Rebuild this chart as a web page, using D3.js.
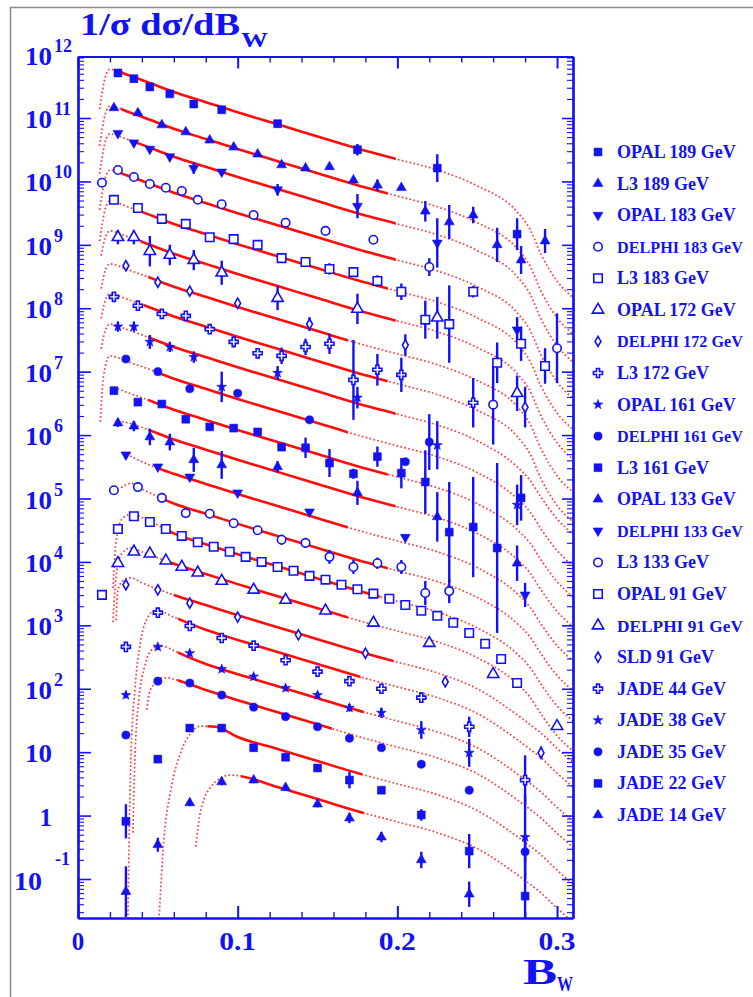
<!DOCTYPE html>
<html>
<head>
<meta charset="utf-8">
<script src="https://cdn.jsdelivr.net/npm/d3@7"></script>
<style>
  html, body { margin: 0; padding: 0; background: #fff; }
  svg { display: block; }
  text { font-family: "Liberation Serif", "Times New Roman", serif; font-weight: bold; }
</style>
</head>
<body>
<svg id="chart" width="753" height="997"></svg>
<script>
// ---------------------------------------------------------------
// Bin centres (B_W) of the different measurements
// ---------------------------------------------------------------
const xOPAL = [0.025, 0.035, 0.045, 0.0575, 0.0725, 0.09, 0.125, 0.175, 0.225, 0.275];
const xL3 = [0.0225, 0.0375, 0.0525, 0.0675, 0.0825, 0.0975, 0.1125, 0.1275, 0.1425, 0.1575,
             0.1725, 0.1875, 0.2025, 0.2175, 0.2325, 0.2475, 0.2625, 0.2775, 0.2925];
const xDELPHI = [0.015, 0.025, 0.035, 0.045, 0.055, 0.065, 0.075, 0.09, 0.11, 0.13, 0.155, 0.185, 0.22, 0.26, 0.3];
const xDELPHI91 = [0.025, 0.035, 0.045, 0.055, 0.065, 0.075, 0.09, 0.11, 0.13, 0.155, 0.185, 0.22, 0.26, 0.3];
const xDELPHI172 = [0.03, 0.05, 0.07, 0.1, 0.145, 0.205, 0.28];
const xDELPHI161 = [0.03, 0.05, 0.07, 0.1, 0.145, 0.205, 0.22];
const xDELPHI133 = [0.03, 0.05, 0.07, 0.1, 0.145, 0.205, 0.28];
const xL3_172 = [0.0225, 0.0375, 0.0525, 0.0675, 0.0825, 0.0975, 0.1125, 0.1275, 0.1425, 0.1575, 0.1725, 0.1875, 0.2025, 0.2475];
const xOPAL91 = [0.015, 0.025, 0.035, 0.045, 0.055, 0.065, 0.075, 0.085, 0.095, 0.105, 0.115, 0.125, 0.135, 0.145,
                 0.155, 0.165, 0.175, 0.185, 0.195, 0.205, 0.215, 0.225, 0.235, 0.245, 0.255, 0.265, 0.275];
const xSLD = [0.03, 0.05, 0.07, 0.1, 0.138, 0.18, 0.23, 0.29];
const xJADE = [0.03, 0.05, 0.07, 0.09, 0.11, 0.13, 0.15, 0.17, 0.19, 0.215, 0.245, 0.28];

// ---------------------------------------------------------------
// Measured distributions: log10(1/sigma dsigma/dB_W), each sample
// shifted by its own display factor; errors in decades.
// ---------------------------------------------------------------
const opal189 = [11.71, 11.62, 11.49, 11.38, 11.22, 11.13, 10.91, 10.50, 10.21, 9.17];
const opal189Err = [0, 0, 0, 0, 0, 0, 0, 0.09, 0.22, 0.25];
const l3189 = [11.16, 11.08, 10.89, 10.78, 10.65, 10.54, 10.43, 10.26, 10.21, 10.23, 10.02, 9.94, 9.90, 9.53, 9.36, 9.47, 9.00, 8.76, 9.06];
const l3189Err = [0, 0, 0, 0, 0, 0, 0, 0, 0, 0, 0, 0.09, 0, 0.16, 0.27, 0.13, 0.27, 0.22, 0.19];
const opal183 = [10.76, 10.61, 10.51, 10.39, 10.21, 10.15, 9.87, 9.61, 9.03, 7.66];
const opal183Err = [0, 0, 0, 0, 0.09, 0, 0.09, 0.19, 0.39, 0.2];
const delphi183 = [9.98, 10.18, 10.07, 9.96, 9.90, 9.85, 9.71, 9.64, 9.47, 9.35, 9.22, 9.08, 8.65, 6.48, 7.37];
const delphi183Err = [0, 0, 0, 0, 0, 0, 0, 0, 0, 0, 0, 0, 0.14, 0.63, 0.55];
const l3183 = [9.71, 9.58, 9.41, 9.33, 9.12, 9.09, 9.00, 8.79, 8.73, 8.62, 8.57, 8.43, 8.26, 7.82, 7.75, 8.26, 7.14, 7.44, 7.09];
const l3183Err = [0, 0, 0, 0, 0, 0, 0, 0, 0, 0.09, 0, 0.09, 0.13, 0.30, 0.61, 0.09, 0.32, 0.27, 0.28];
const opal172 = [9.12, 9.12, 8.90, 8.84, 8.76, 8.56, 8.16, 7.99, 7.85, 6.66];
const opal172Err = [0.11, 0.11, 0.24, 0.16, 0.16, 0.19, 0.19, 0.24, 0.33, 0.28];
const delphi172 = [8.67, 8.41, 8.27, 8.08, 7.75, 7.42, 6.44];
const delphi172Err = [0, 0, 0, 0.05, 0.11, 0.17, 0.32];
const l3172 = [8.18, 8.04, 7.91, 7.88, 7.67, 7.47, 7.29, 7.25, 7.39, 7.44, 6.87, 7.03, 6.95, 6.51];
const l3172Err = [0.05, 0.06, 0.06, 0.06, 0.08, 0.09, 0.06, 0.13, 0.13, 0.16, 0.63, 0.25, 0.27, 0.39];
const opal161 = [7.71, 7.71, 7.47, 7.39, 7.23, 6.76, 6.98, 6.59, 5.84, 4.90];
const opal161Err = [0.08, 0.08, 0.11, 0.08, 0.09, 0.24, 0.11, 0.17, 0.38, 0.32];
const delphi161 = [7.20, 7.00, 6.73, 6.66, 6.24, 5.58, 5.89];
const delphi161Err = [0, 0, 0, 0, 0, 0, 0.44];
const l3161 = [6.70, 6.52, 6.49, 6.25, 6.13, 6.11, 6.05, 5.81, 5.80, 5.56, 5.39, 5.66, 5.40, 5.26, 4.47, 4.55, 4.22, 5.01];
const l3161Err = [0, 0, 0, 0.06, 0.06, 0.06, 0.06, 0, 0.16, 0.22, 0.08, 0.16, 0.24, 0.50, 0.79, 0.79, 1.34, 0.36];
const opal133 = [6.19, 6.14, 5.97, 5.89, 5.61, 5.53, 5.50, 5.09, 4.71, 3.98];
const opal133Err = [0.06, 0.08, 0.13, 0.13, 0.19, 0.22, 0.09, 0.19, 0.39, 0.28];
const delphi133 = [5.69, 5.50, 5.34, 5.09, 4.79, 4.39, 3.48];
const delphi133Err = [0, 0, 0, 0, 0, 0, 0.19];
const l3133 = [5.13, 5.18, 5.01, 4.77, 4.76, 4.61, 4.50, 4.35, 4.30, 4.08, 3.92, 3.98, 3.92, 3.51, 3.54];
const l3133Err = [0, 0, 0, 0, 0, 0, 0.06, 0.08, 0.08, 0.11, 0.11, 0.09, 0.11, 0.19, 0.19];
const opal91 = [3.48, 4.52, 4.72, 4.63, 4.52, 4.41, 4.31, 4.24, 4.16, 4.08, 4.00, 3.92, 3.86, 3.78,
                3.72, 3.64, 3.57, 3.50, 3.42, 3.32, 3.23, 3.15, 3.04, 2.88, 2.71, 2.47, 2.09];
const opal91Err = opal91.map(() => 0);
const delphi91 = [3.98, 4.16, 4.13, 4.02, 3.92, 3.83, 3.70, 3.56, 3.40, 3.23, 3.04, 2.72, 2.23, 1.41];
const delphi91Err = delphi91.map(() => 0);
const sld91 = [3.64, 3.56, 3.35, 3.13, 2.85, 2.56, 2.11, 0.99];
const sld91Err = [0.05, 0, 0, 0, 0, 0, 0, 0.1];
const jade44 = [2.66, 3.20, 2.99, 2.80, 2.68, 2.45, 2.27, 2.12, 2.00, 1.86, 1.40, 0.56];
const jade44Err = [0.06, 0.06, 0.06, 0.05, 0.05, 0.05, 0.05, 0.06, 0.06, 0.08, 0.16, 0.39];
const jade38 = [1.90, 2.66, 2.56, 2.31, 2.19, 2.01, 1.90, 1.70, 1.62, 1.35, 0.99, -0.34];
const jade38Err = [0.05, 0.05, 0.05, 0.05, 0.05, 0.05, 0.05, 0.06, 0.08, 0.14, 0.22, 0.66];
const jade35 = [1.27, 2.12, 2.09, 1.90, 1.71, 1.56, 1.40, 1.22, 1.07, 0.81, 0.40, -0.57];
const jade35Err = [0.05, 0.05, 0.05, 0.05, 0.05, 0.05, 0.05, 0.05, 0.05, 0.06, 0.06, 0.16];
const jade22 = [-0.09, 0.89, 1.38, 1.38, 1.07, 0.92, 0.75, 0.56, 0.40, 0.01, -0.56, -1.27];
const jade22Err = [0.27, 0.06, 0.06, 0.06, 0.06, 0.06, 0.06, 0.13, 0.06, 0.09, 0.27, 0.63];
const jade14 = [-1.20, -0.46, 0.20, 0.53, 0.56, 0.44, 0.18, -0.04, -0.34, -0.70, -1.24];
const jade14Err = [0.4, 0.11, 0.05, 0.05, 0.05, 0.05, 0.05, 0.08, 0.08, 0.13, 0.2];

// ---------------------------------------------------------------
// Theory predictions [B_W, log10 value]; solid inside the fit range
// ---------------------------------------------------------------
const curveOpal189 = [[0.0135,11.14],[0.015,11.38],[0.017,11.64],[0.02,11.77],[0.025,11.74],[0.03,11.69],[0.04,11.60],[0.06,11.41],[0.08,11.25],[0.1,11.09],[0.125,10.90],[0.15,10.71],[0.175,10.52],[0.2,10.35],[0.225,10.18],[0.25,9.93],[0.275,9.52],[0.283,9.25],[0.29,8.85],[0.3,8.43],[0.31,8.17]];
const curveL3189 = [[0.0135,10.56],[0.015,10.80],[0.017,11.06],[0.02,11.19],[0.025,11.16],[0.03,11.11],[0.04,11.02],[0.06,10.83],[0.08,10.67],[0.1,10.51],[0.125,10.32],[0.15,10.13],[0.175,9.94],[0.2,9.77],[0.225,9.60],[0.25,9.35],[0.275,8.94],[0.283,8.67],[0.29,8.27],[0.3,7.85],[0.31,7.59]];
const curveOpal183 = [[0.0135,10.12],[0.015,10.36],[0.017,10.62],[0.02,10.75],[0.025,10.72],[0.03,10.67],[0.04,10.58],[0.06,10.39],[0.08,10.23],[0.1,10.07],[0.125,9.88],[0.15,9.69],[0.175,9.50],[0.2,9.33],[0.225,9.16],[0.25,8.91],[0.275,8.50],[0.283,8.23],[0.29,7.83],[0.3,7.41],[0.31,7.15]];
const curveDelphi183 = [[0.0135,9.55],[0.015,9.79],[0.017,10.05],[0.02,10.18],[0.025,10.15],[0.03,10.10],[0.04,10.01],[0.06,9.82],[0.08,9.66],[0.1,9.50],[0.125,9.31],[0.15,9.12],[0.175,8.93],[0.2,8.76],[0.225,8.59],[0.25,8.34],[0.275,7.93],[0.283,7.66],[0.29,7.26],[0.3,6.84],[0.31,6.58]];
const curveL3183 = [[0.0135,9.06],[0.015,9.30],[0.017,9.56],[0.02,9.69],[0.025,9.66],[0.03,9.61],[0.04,9.52],[0.06,9.33],[0.08,9.17],[0.1,9.01],[0.125,8.82],[0.15,8.63],[0.175,8.44],[0.2,8.27],[0.225,8.10],[0.25,7.85],[0.275,7.44],[0.283,7.17],[0.29,6.77],[0.3,6.35],[0.31,6.09]];
const curveOpal172 = [[0.0145,8.83],[0.017,9.11],[0.02,9.22],[0.025,9.19],[0.03,9.14],[0.04,9.05],[0.06,8.86],[0.08,8.70],[0.1,8.54],[0.125,8.35],[0.15,8.16],[0.175,7.97],[0.2,7.80],[0.225,7.63],[0.25,7.38],[0.275,6.97],[0.283,6.70],[0.29,6.30],[0.3,5.88],[0.31,5.62]];
const curveDelphi172 = [[0.0145,8.31],[0.017,8.59],[0.02,8.70],[0.025,8.67],[0.03,8.62],[0.04,8.53],[0.06,8.34],[0.08,8.18],[0.1,8.02],[0.125,7.83],[0.15,7.64],[0.175,7.45],[0.2,7.28],[0.225,7.11],[0.25,6.86],[0.275,6.45],[0.283,6.18],[0.29,5.78],[0.3,5.36],[0.31,5.10]];
const curveL3172 = [[0.0145,7.84],[0.017,8.12],[0.02,8.23],[0.025,8.20],[0.03,8.15],[0.04,8.06],[0.06,7.87],[0.08,7.71],[0.1,7.55],[0.125,7.36],[0.15,7.17],[0.175,6.98],[0.2,6.81],[0.225,6.64],[0.25,6.39],[0.275,5.98],[0.283,5.71],[0.29,5.31],[0.3,4.89],[0.31,4.63]];
const curveOpal161 = [[0.0145,7.36],[0.017,7.64],[0.02,7.75],[0.025,7.72],[0.03,7.67],[0.04,7.58],[0.06,7.39],[0.08,7.23],[0.1,7.07],[0.125,6.88],[0.15,6.69],[0.175,6.50],[0.2,6.33],[0.225,6.16],[0.25,5.91],[0.275,5.50],[0.283,5.29],[0.29,5.02],[0.3,4.68],[0.31,4.44]];
const curveDelphi161 = [[0.014,6.21],[0.016,6.93],[0.02,7.25],[0.025,7.22],[0.03,7.17],[0.04,7.08],[0.06,6.89],[0.08,6.73],[0.1,6.57],[0.125,6.38],[0.15,6.19],[0.175,6.00],[0.2,5.83],[0.225,5.66],[0.25,5.41],[0.275,5.00],[0.283,4.79],[0.29,4.52],[0.3,4.18],[0.31,3.94]];
const curveL3161 = [[0.0225,6.76],[0.025,6.73],[0.03,6.68],[0.04,6.59],[0.06,6.40],[0.08,6.24],[0.1,6.08],[0.125,5.89],[0.15,5.70],[0.175,5.51],[0.2,5.34],[0.225,5.17],[0.25,4.92],[0.275,4.51],[0.283,4.30],[0.29,4.03],[0.3,3.69],[0.31,3.45]];
const curveOpal133 = [[0.025,6.21],[0.03,6.20],[0.04,6.12],[0.06,5.93],[0.08,5.77],[0.1,5.61],[0.125,5.42],[0.15,5.23],[0.175,5.04],[0.2,4.87],[0.225,4.70],[0.25,4.45],[0.275,4.04],[0.283,3.83],[0.29,3.56],[0.3,3.22],[0.31,2.98]];
const curveDelphi133 = [[0.028,5.72],[0.03,5.70],[0.04,5.58],[0.06,5.39],[0.08,5.23],[0.1,5.07],[0.125,4.88],[0.15,4.69],[0.175,4.50],[0.2,4.33],[0.225,4.16],[0.25,3.91],[0.275,3.50],[0.283,3.29],[0.29,3.02],[0.3,2.68],[0.31,2.44]];
const curveL3133 = [[0.027,5.17],[0.033,5.24],[0.04,5.15],[0.06,4.92],[0.08,4.76],[0.1,4.60],[0.125,4.41],[0.15,4.22],[0.175,4.03],[0.2,3.86],[0.225,3.69],[0.25,3.44],[0.275,3.03],[0.283,2.82],[0.29,2.55],[0.3,2.21],[0.31,1.97]];
const curveOpal91 = [[0.0219,3.59],[0.0231,4.11],[0.025,4.50],[0.028,4.69],[0.035,4.76],[0.04,4.70],[0.05,4.58],[0.06,4.45],[0.08,4.28],[0.1,4.12],[0.125,3.93],[0.15,3.74],[0.175,3.55],[0.2,3.38],[0.225,3.21],[0.25,2.96],[0.275,2.55],[0.283,2.34],[0.29,2.07],[0.3,1.73],[0.31,1.49]];
const curveDelphi91 = [[0.0219,3.05],[0.0231,3.56],[0.0256,4.03],[0.0288,4.17],[0.033,4.22],[0.04,4.16],[0.06,3.97],[0.08,3.81],[0.1,3.65],[0.125,3.46],[0.15,3.27],[0.175,3.08],[0.2,2.91],[0.225,2.74],[0.25,2.49],[0.275,2.08],[0.283,1.87],[0.29,1.60],[0.3,1.26],[0.31,1.02]];
const curveSld91 = [[0.0238,3.08],[0.025,3.56],[0.028,3.70],[0.033,3.75],[0.04,3.67],[0.06,3.48],[0.08,3.32],[0.1,3.16],[0.125,2.97],[0.15,2.78],[0.175,2.59],[0.2,2.42],[0.225,2.25],[0.25,2.00],[0.275,1.59],[0.283,1.44],[0.29,1.30],[0.3,1.06],[0.31,0.84]];
const curveJade44 = [[0.0312,-1.7],[0.0319,-0.54],[0.0331,0.88],[0.0356,1.98],[0.0394,2.77],[0.0438,3.13],[0.0488,3.24],[0.06,3.13],[0.08,2.93],[0.1,2.77],[0.125,2.58],[0.15,2.39],[0.175,2.20],[0.2,2.03],[0.225,1.86],[0.25,1.61],[0.275,1.20],[0.283,1.05],[0.29,0.91],[0.3,0.67],[0.31,0.45]];
const curveJade38 = [[0.0344,-0.27],[0.0356,0.88],[0.0381,1.82],[0.0419,2.37],[0.0456,2.60],[0.05,2.67],[0.055,2.66],[0.06,2.60],[0.08,2.39],[0.1,2.23],[0.125,2.04],[0.15,1.85],[0.175,1.66],[0.2,1.49],[0.225,1.32],[0.25,1.07],[0.275,0.66],[0.283,0.51],[0.29,0.37],[0.3,0.13],[0.31,-0.09]];
const curveJade35 = [[0.0431,1.67],[0.0444,1.90],[0.0475,2.07],[0.0519,2.17],[0.0569,2.17],[0.06,2.15],[0.08,1.98],[0.1,1.82],[0.125,1.63],[0.15,1.44],[0.175,1.25],[0.2,1.08],[0.225,0.91],[0.25,0.66],[0.275,0.25],[0.283,0.10],[0.29,-0.04],[0.3,-0.28],[0.31,-0.50]];
const curveJade22 = [[0.0506,-1.7],[0.0538,-0.38],[0.0581,0.40],[0.0644,1.00],[0.0706,1.30],[0.0769,1.41],[0.0863,1.40],[0.1,1.24],[0.125,1.05],[0.15,0.86],[0.175,0.67],[0.2,0.50],[0.225,0.33],[0.25,0.08],[0.275,-0.33],[0.283,-0.48],[0.29,-0.62],[0.3,-0.86],[0.31,-1.08]];
const curveJade14 = [[0.0738,-0.49],[0.0763,0.01],[0.0788,0.25],[0.0831,0.45],[0.0875,0.56],[0.0956,0.64],[0.1,0.63],[0.125,0.45],[0.15,0.26],[0.175,0.07],[0.2,-0.10],[0.225,-0.27],[0.25,-0.52],[0.275,-0.93],[0.283,-1.08],[0.29,-1.22],[0.3,-1.46],[0.31,-1.68]];

// fit ranges [B_W min, B_W max] of the solid part of each prediction
const fitRanges = [[0.024,0.199],[0.027,0.194],[0.033,0.199],[0.025,0.199],[0.0375,0.194],[0.039,0.199],
                   [0.044,0.169],[0.041,0.194],[0.044,0.199],[0.05,0.169],[0.044,0.194],[0.044,0.199],
                   [0.05,0.169],[0.052,0.194],[0.054,0.189],[0.056,0.169],[0.06,0.1975],[0.0625,0.177],
                   [0.0625,0.179],[0.0625,0.159],[0.081,0.178],[0.102,0.179]];

const labels = ["OPAL 189 GeV","L3 189 GeV","OPAL 183 GeV","DELPHI 183 GeV","L3 183 GeV","OPAL 172 GeV",
                "DELPHI 172 GeV","L3 172 GeV","OPAL 161 GeV","DELPHI 161 GeV","L3 161 GeV","OPAL 133 GeV",
                "DELPHI 133 GeV","L3 133 GeV","OPAL 91 GeV","DELPHI 91 GeV","SLD 91 GeV","JADE 44 GeV",
                "JADE 38 GeV","JADE 35 GeV","JADE 22 GeV","JADE 14 GeV"];
const markerKinds = ["sqF","triF","triDF","circO","sqO","triO","diaO","crossO","star","circF","sqF",
                     "triF","triDF","circO","sqO","triO","diaO","crossO","star","circF","sqF","triF"];

const yTickExps = [12, 11, 10, 9, 8, 7, 6, 5, 4, 3, 2, 1, 0, -1];
const xTickLabels = [0, 0.1, 0.2, 0.3];

// ---------------------------------------------------------------
const samples = [
  {x: xOPAL, v: opal189, e: opal189Err, c: curveOpal189},
  {x: xL3, v: l3189, e: l3189Err, c: curveL3189},
  {x: xOPAL, v: opal183, e: opal183Err, c: curveOpal183},
  {x: xDELPHI, v: delphi183, e: delphi183Err, c: curveDelphi183},
  {x: xL3, v: l3183, e: l3183Err, c: curveL3183},
  {x: xOPAL, v: opal172, e: opal172Err, c: curveOpal172},
  {x: xDELPHI172, v: delphi172, e: delphi172Err, c: curveDelphi172},
  {x: xL3_172, v: l3172, e: l3172Err, c: curveL3172},
  {x: xOPAL, v: opal161, e: opal161Err, c: curveOpal161},
  {x: xDELPHI161, v: delphi161, e: delphi161Err, c: curveDelphi161},
  {x: xL3.slice(0, 18), v: l3161, e: l3161Err, c: curveL3161},
  {x: xOPAL, v: opal133, e: opal133Err, c: curveOpal133},
  {x: xDELPHI133, v: delphi133, e: delphi133Err, c: curveDelphi133},
  {x: xL3.slice(0, 15), v: l3133, e: l3133Err, c: curveL3133},
  {x: xOPAL91, v: opal91, e: opal91Err, c: curveOpal91},
  {x: xDELPHI91, v: delphi91, e: delphi91Err, c: curveDelphi91},
  {x: xSLD, v: sld91, e: sld91Err, c: curveSld91},
  {x: xJADE, v: jade44, e: jade44Err, c: curveJade44},
  {x: xJADE, v: jade38, e: jade38Err, c: curveJade38},
  {x: xJADE, v: jade35, e: jade35Err, c: curveJade35},
  {x: xJADE, v: jade22, e: jade22Err, c: curveJade22},
  {x: xJADE.slice(0, 11), v: jade14, e: jade14Err, c: curveJade14}
];

const BLUE = "#1212f2";
const RED = "#ff0d0d";
const DOT_RED = "#ff3b3b";

const plot = {left: 78, right: 573, top: 56.5, bottom: 918};
const xs = d3.scaleLinear().domain([0, 0.31]).range([plot.left, plot.right]);
const ys = d3.scaleLog().domain([Math.pow(10, -1.615), Math.pow(10, 11.97)]).range([plot.bottom, plot.top]);
const yv = l => ys(Math.pow(10, l));

const svg = d3.select("#chart");
const defs = svg.append("defs");

// outer frame of the figure
svg.append("rect").attr("x", 10.5).attr("y", 7.5).attr("width", 800).attr("height", 1100)
  .attr("fill", "none").attr("stroke", "#8a8a8a").attr("stroke-width", 1.5);

defs.append("clipPath").attr("id", "plotClip").append("rect")
  .attr("x", plot.left).attr("y", plot.top)
  .attr("width", plot.right - plot.left).attr("height", plot.bottom - plot.top);

// ---------------- predictions ----------------
const line = d3.line().x(d => xs(d[0])).y(d => yv(d[1])).curve(d3.curveMonotoneX);
const curveLayer = svg.append("g").attr("clip-path", "url(#plotClip)");
samples.forEach((s, i) => {
  const [lo, hi] = fitRanges[i];
  defs.append("clipPath").attr("id", "fit" + i).append("rect")
    .attr("x", xs(lo)).attr("y", plot.top)
    .attr("width", xs(hi) - xs(lo)).attr("height", plot.bottom - plot.top);
  curveLayer.append("path").attr("d", line(s.c))
    .attr("fill", "none").attr("stroke", DOT_RED).attr("stroke-width", 1.7)
    .attr("stroke-dasharray", "1.7 2.3");
  curveLayer.append("g").attr("clip-path", "url(#fit" + i + ")")
    .append("path").attr("d", line(s.c))
    .attr("fill", "none").attr("stroke", RED).attr("stroke-width", 2.6);
});

// ---------------- markers ----------------
const markerDefs = {
  sqF:    {type: d3.symbolSquare,   size: 62, fill: true},
  triF:   {type: d3.symbolTriangle, size: 42, fill: true},
  triDF:  {type: d3.symbolTriangle, size: 42, fill: true, rot: 180},
  circO:  {type: d3.symbolCircle,   size: 56, fill: false},
  sqO:    {type: d3.symbolSquare,   size: 72, fill: false},
  triO:   {type: d3.symbolTriangle, size: 56, fill: false},
  diaO:   {type: d3.symbolDiamond,  size: 30, fill: false},
  crossO: {type: d3.symbolCross,    size: 46, fill: false},
  star:   {type: d3.symbolStar,     size: 30, fill: true},
  circF:  {type: d3.symbolCircle,   size: 52, fill: true}
};
function drawMarker(g, kind, cx, cy) {
  const m = markerDefs[kind];
  g.append("path")
    .attr("d", d3.symbol().type(m.type).size(m.size)())
    .attr("transform", `translate(${cx},${cy})` + (m.rot ? ` rotate(${m.rot})` : ""))
    .attr("fill", m.fill ? BLUE : "#fff")
    .attr("stroke", BLUE)
    .attr("stroke-width", m.fill ? 0.6 : 1.6);
}

const dataLayer = svg.append("g").attr("clip-path", "url(#plotClip)");
samples.forEach((s, i) => {
  const g = dataLayer.append("g");
  s.v.forEach((val, j) => {
    const err = s.e[j];
    if (err > 0) {
      g.append("line")
        .attr("x1", xs(s.x[j])).attr("x2", xs(s.x[j]))
        .attr("y1", yv(val - err)).attr("y2", yv(val + err))
        .attr("stroke", BLUE).attr("stroke-width", 2.4);
    }
  });
  s.v.forEach((val, j) => drawMarker(g, markerKinds[i], xs(s.x[j]), yv(val)));
});

// ---------------- axes ----------------
function styleAxis(g, w) {
  g.select("path.domain").attr("stroke", BLUE).attr("stroke-width", 2.2);
  g.selectAll(".tick line").attr("stroke", BLUE).attr("stroke-width", w);
  g.selectAll(".tick text").remove();
}
const xMajor = [0, 0.1, 0.2, 0.3];
const xMinor = d3.range(1, 16).filter(i => i % 5 !== 0).map(i => i * 0.02);
const yMajor = d3.range(-1, 12).map(e => Math.pow(10, e));
const yMinor = [];
d3.range(-2, 12).forEach(e => d3.range(2, 10).forEach(k => {
  const v = k * Math.pow(10, e);
  if (v > ys.domain()[0] && v < ys.domain()[1]) yMinor.push(v);
}));

const axG = svg.append("g");
[[d3.axisBottom, plot.bottom], [d3.axisTop, plot.top]].forEach(([ax, pos]) => {
  axG.append("g").attr("transform", `translate(0,${pos})`)
    .call(ax(xs).tickValues(xMinor).tickSize(-6).tickSizeOuter(0).tickFormat(""))
    .call(g => styleAxis(g, 1.4));
  axG.append("g").attr("transform", `translate(0,${pos})`)
    .call(ax(xs).tickValues(xMajor).tickSize(-12).tickSizeOuter(0).tickFormat(""))
    .call(g => styleAxis(g, 2));
});
[[d3.axisLeft, plot.left, 13], [d3.axisRight, plot.right, 11]].forEach(([ax, pos, len]) => {
  axG.append("g").attr("transform", `translate(${pos},0)`)
    .call(ax(ys).tickValues(yMinor).tickSize(-6).tickSizeOuter(0).tickFormat(""))
    .call(g => styleAxis(g, 1.1));
  axG.append("g").attr("transform", `translate(${pos},0)`)
    .call(ax(ys).tickValues(yMajor).tickSize(-len).tickSizeOuter(0).tickFormat(""))
    .call(g => styleAxis(g, 1.6));
});

// y tick labels: 10 with exponent
const labG = svg.append("g").attr("fill", BLUE);
yTickExps.forEach(e => {
  const t = ys(Math.pow(10, e));
  if (e >= 2) {
    labG.append("text").attr("x", 52).attr("y", t + 10).attr("text-anchor", "end")
      .attr("font-size", 25).attr("textLength", 27).attr("lengthAdjust", "spacingAndGlyphs").text("10");
    labG.append("text").attr("x", 54).attr("y", t - 3).attr("font-size", 18).text(String(e));
  } else if (e === 1) {
    labG.append("text").attr("x", 52).attr("y", t + 10).attr("text-anchor", "end")
      .attr("font-size", 25).attr("textLength", 27).attr("lengthAdjust", "spacingAndGlyphs").text("10");
  } else if (e === 0) {
    labG.append("text").attr("x", 52).attr("y", t + 10).attr("text-anchor", "end")
      .attr("font-size", 25).text("1");
  } else {
    labG.append("text").attr("x", 42).attr("y", t + 11).attr("text-anchor", "end")
      .attr("font-size", 25).attr("textLength", 28).attr("lengthAdjust", "spacingAndGlyphs").text("10");
    labG.append("text").attr("x", 55).attr("y", t - 14).attr("font-size", 18).text(String(e));
  }
});

// x tick labels
xTickLabels.forEach(v => {
  const s = v === 0 ? "0" : String(v);
  const txt = labG.append("text").attr("x", xs(v)).attr("y", 950).attr("text-anchor", "middle")
    .attr("font-size", 25).text(s);
  if (v !== 0) txt.attr("textLength", 37).attr("lengthAdjust", "spacingAndGlyphs");
});

// axis titles
labG.append("text").attr("x", 80).attr("y", 35).attr("font-size", 32)
  .attr("textLength", 160).attr("lengthAdjust", "spacingAndGlyphs").text("1/σ dσ/dB");
labG.append("text").attr("x", 241).attr("y", 47).attr("font-size", 22)
  .attr("textLength", 27).attr("lengthAdjust", "spacingAndGlyphs").text("W");
labG.append("text").attr("x", 523).attr("y", 984).attr("font-size", 36)
  .attr("textLength", 34).attr("lengthAdjust", "spacingAndGlyphs").text("B");
labG.append("text").attr("x", 557).attr("y", 991).attr("font-size", 20)
  .attr("textLength", 16).attr("lengthAdjust", "spacingAndGlyphs").text("W");

// ---------------- legend ----------------
const legG = svg.append("g");
const legRoom = 126;
labels.forEach((lab, i) => {
  const cy = 152 + i * 31.57;
  drawMarker(legG, markerKinds[i], 598, cy);
  const t = legG.append("text").attr("x", 617).attr("y", cy + 6).attr("font-size", 18)
    .attr("fill", BLUE).text(lab);
  const w = t.node().getComputedTextLength();
  if (w > legRoom) t.attr("font-size", (18 * legRoom / w).toFixed(2));
});
</script>
</body>
</html>
